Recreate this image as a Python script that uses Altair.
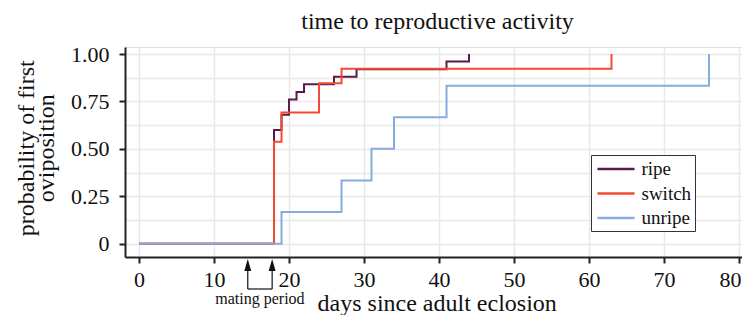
import altair as alt
import pandas as pd

SERIF = "Liberation Serif"

groups = ["ripe", "switch", "unripe"]
colors = ["#5b1a4b", "#f24b32", "#86acdc"]

ripe_days = [0, 18, 19, 20, 21, 22, 26, 29, 41, 44]
ripe_prob = [0, 0.60, 0.68, 0.76, 0.80, 0.84, 0.88, 0.92, 0.96, 1.00]
switch_days = [0, 18, 19, 24, 27, 63]
switch_prob = [0, 0.538, 0.692, 0.846, 0.923, 1.00]
unripe_days = [0, 19, 27, 31, 34, 41, 76]
unripe_prob = [0, 0.167, 0.333, 0.500, 0.667, 0.833, 1.00]

x_ticks = [0, 10, 20, 30, 40, 50, 60, 70, 80]
y_grid = [0, 0.125, 0.25, 0.375, 0.5, 0.625, 0.75, 0.875, 1.0]
mating_period = [14.5, 17.75]

rows = []
for g, days, probs in zip(groups, [ripe_days, switch_days, unripe_days],
                          [ripe_prob, switch_prob, unripe_prob]):
    for i, (d, p) in enumerate(zip(days, probs)):
        rows.append({"group": g, "day": d, "prob": p, "i": i})
df = pd.DataFrame(rows)

x_scale = alt.Scale(domain=[-1.87, 80.4], nice=False, zero=False)
y_scale = alt.Scale(domain=[-0.07, 1.037], nice=False, zero=False)

x_axis = alt.Axis(
    values=x_ticks, title="days since adult eclosion", format="d",
    labelFont=SERIF, labelFontSize=22, labelColor="#111", labelPadding=6,
    labelOffset={"condition": {"test": f"datum.value === {x_ticks[-1]}", "value": -9}, "value": 0},
    tickSize=6, tickWidth=2, tickColor="#222",
    domainColor="#222", domainWidth=2,
    grid=True, gridColor="#e8e8e8", gridWidth=1.5,
    titleFont=SERIF, titleFontSize=24, titleFontWeight="normal", titleColor="#111",
    titleBaseline="alphabetic", titleY=53, titleX=311.7, titleAlign="center",
)
y_axis = alt.Axis(
    values=y_grid,
    labelExpr="datum.value % 0.25 !== 0 ? '' : (datum.value === 0 ? '0' : format(datum.value, '.2f'))",
    tickOpacity={"condition": {"test": "datum.value % 0.25 === 0", "value": 1}, "value": 0},
    labelFont=SERIF, labelFontSize=22, labelColor="#111", labelPadding=10,
    tickSize=6, tickWidth=2, tickColor="#222",
    domainColor="#222", domainWidth=2,
    grid=True, gridColor="#e8e8e8", gridWidth=1.5,
    title=["probability of first", "oviposition"],
    titleFont=SERIF, titleFontSize=24, titleFontWeight="normal", titleColor="#111",
    titleAngle=270, titleBaseline="middle", titleAlign="center", titleLineHeight=20,
    titleX=-99, titleY=100.7,
)

lines = alt.Chart(df).mark_line(interpolate="step-after", strokeWidth=2, clip=True).encode(
    x=alt.X("day:Q", scale=x_scale, axis=x_axis),
    y=alt.Y("prob:Q", scale=y_scale, axis=y_axis),
    color=alt.Color(
        "group:N",
        scale=alt.Scale(domain=groups, range=colors),
        legend=alt.Legend(
            title=None, orient="none", legendX=466, legendY=108,
            symbolType="M-1.95,0H1.95", symbolSize=361, symbolStrokeWidth=2.5,
            symbolOffset=11,
            labelFont=SERIF, labelFontSize=19, labelColor="#111", labelOffset=14.5,
            labelExpr="datum.label + '     '",
            strokeColor="#333", fillColor="white", padding=3, rowPadding=3.5,
        ),
    ),
    order="i:Q",
)

arrows_df = pd.DataFrame({"day": mating_period})
span_df = pd.DataFrame({
    "start": [mating_period[0]], "end": [mating_period[1]],
    "mid": [(mating_period[0] + mating_period[1]) / 2],
})

shafts = alt.Chart(arrows_df).mark_rule(color="#111", strokeWidth=1.2).encode(
    x=alt.X("day:Q", scale=x_scale, axis=x_axis),
    y=alt.value(216), y2=alt.value(242),
)
heads = alt.Chart(arrows_df).mark_point(
    shape="M0,-1L0.58,1L-0.58,1Z", size=144, filled=True, color="#111", opacity=1
).encode(
    x=alt.X("day:Q", scale=x_scale, axis=x_axis),
    y=alt.value(218),
)
connector = alt.Chart(span_df).mark_rule(color="#111", strokeWidth=1.2).encode(
    x=alt.X("start:Q", scale=x_scale, axis=x_axis),
    x2="end:Q",
    y=alt.value(242),
)
label = alt.Chart(span_df).mark_text(
    text="mating period", font=SERIF, fontSize=16, color="#111", baseline="alphabetic"
).encode(
    x=alt.X("mid:Q", scale=x_scale, axis=x_axis),
    y=alt.value(256.7),
)

chart = alt.layer(lines, shafts, connector, heads, label).properties(
    width=617, height=210,
    title=alt.TitleParams(
        "time to reproductive activity", font=SERIF, fontSize=24,
        fontWeight="normal", color="#111", anchor="middle", offset=9, dx=4,
    ),
    autosize=alt.AutoSizeParams(type="none"),
    padding={"left": 117, "top": 39, "right": 0, "bottom": 58},
).configure_view(stroke="#222", strokeWidth=1.5).configure(background="white")

chart.save("out.html", embed_options={"renderer": "svg", "actions": False})
